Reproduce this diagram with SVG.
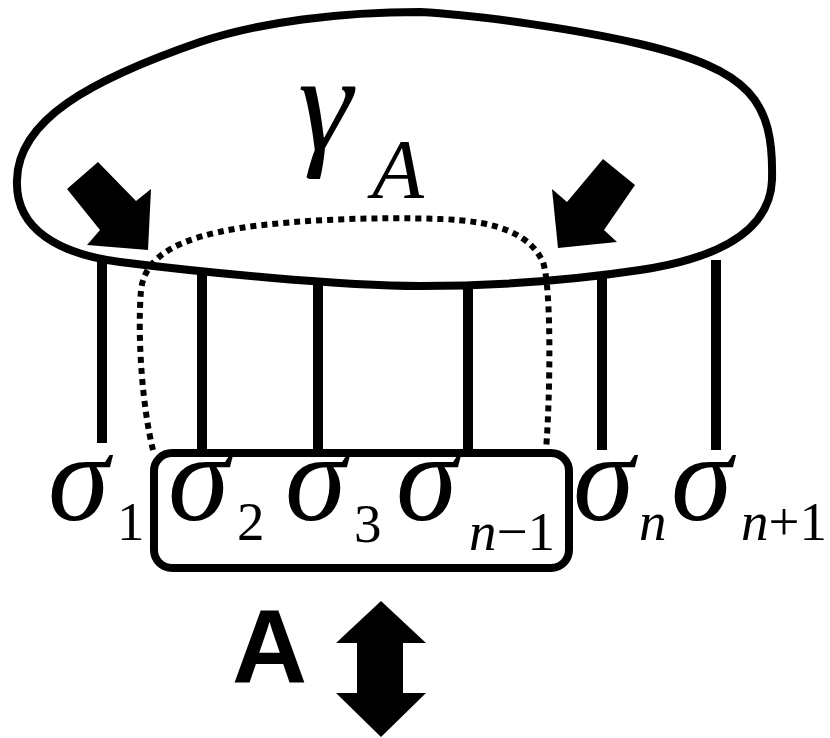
<svg xmlns="http://www.w3.org/2000/svg" width="830" height="738" viewBox="0 0 830 738">
<style>
.ln{fill:none;stroke:#000;stroke-linecap:butt}
.sig{font-family:"Liberation Serif",serif;font-style:italic;font-size:124px;fill:#000}
.sub{font-family:"Liberation Serif",serif;font-size:55px;fill:#000}
.it{font-style:italic}
</style>
<rect width="830" height="738" fill="#fff"/>
<g id="region-gamma">
<path class="ln" stroke-width="8" d="M 420 12 C 480 15, 580 30, 640 44 C 750 70, 774 100, 772 180 C 770 230, 720 258, 640 270 C 560 282, 480 286, 420 286 C 340 286, 200 272, 120 262 C 60 254, 15 230, 17 180 C 18 120, 90 80, 200 42 C 260 22, 340 12, 420 12 Z"/>
<text x="298" y="150" font-family="Liberation Serif, serif" font-style="italic" font-size="138">γ</text>
<text x="372" y="198" font-family="Liberation Serif, serif" font-style="italic" font-size="85">A</text>
</g>
<g id="connectors">
<path class="ln" stroke-width="10" d="M102 262 V443 M202 272 V453 M318 280 V453 M468 283 V453 M602 272 V450 M716 260 V450"/>
<path class="ln" stroke-width="6" stroke-dasharray="6 5" d="M 153 450 C 143 410, 137 340, 141 290 C 145 255, 180 238, 240 228 C 300 219, 380 217, 440 219 C 500 221, 530 235, 543 262 C 552 290, 550 400, 546 450"/>
</g>
<g id="arrow-left"><polygon points="67,189 98,162 136,201 151,189 148,250 87,245 100,230"/></g>
<g id="arrow-right"><polygon points="603,159 635,185 604,230 617,242 558,248 552,189 567,202"/></g>
<g id="box-A"><rect class="ln" stroke-width="8" x="154" y="453" width="415" height="115" rx="18"/></g>
<g id="labels">
<text class="sig" x="48" y="520">σ</text><text class="sub" x="117" y="540">1</text>
<text class="sig" x="168" y="520">σ</text><text class="sub" x="237" y="540">2</text>
<text class="sig" x="285" y="520">σ</text><text class="sub" x="354" y="542">3</text>
<text class="sig" x="396" y="520">σ</text><text class="sub" x="469" y="550"><tspan class="it">n</tspan>−1</text>
<text class="sig" x="573" y="520">σ</text><text class="sub" x="639" y="540"><tspan class="it">n</tspan></text>
<text class="sig" x="671" y="520">σ</text><text class="sub" x="741" y="540"><tspan class="it">n</tspan>+1</text>
</g>
<g id="label-A"><text x="232" y="682" font-family="Liberation Sans, sans-serif" font-weight="bold" font-size="104">A</text></g>
<g id="double-arrow"><polygon points="381,601 426,643 403,643 403,693 426,693 381,737 336,693 357,693 357,643 336,643"/></g>
</svg>
